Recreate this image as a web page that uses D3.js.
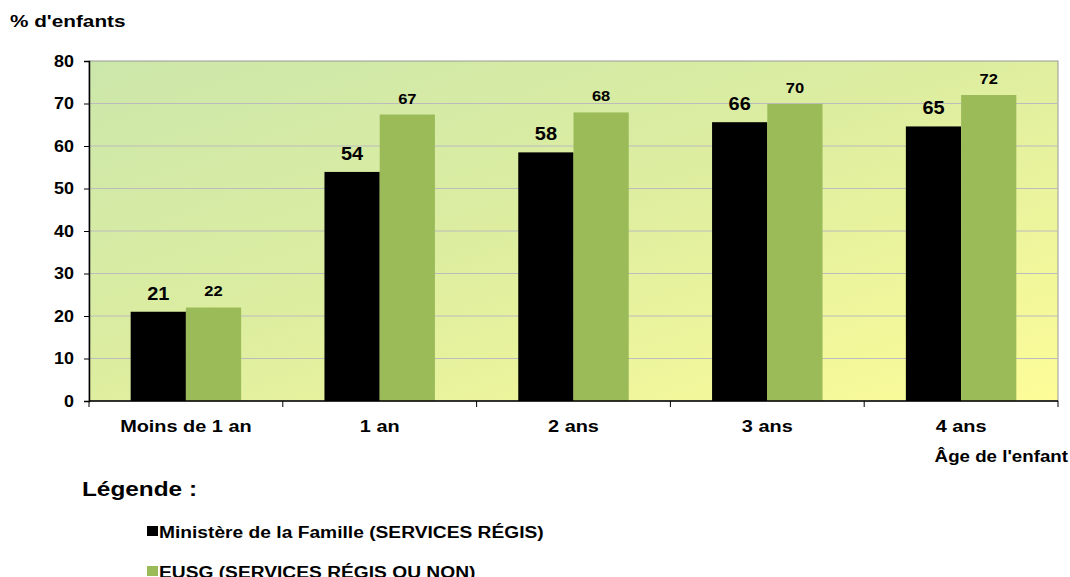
<!DOCTYPE html>
<html>
<head>
<meta charset="utf-8">
<script src="https://cdn.jsdelivr.net/npm/d3@7"></script>
<style>
  body { margin: 0; background: #fff; }
  svg { display: block; font-family: "Liberation Sans", Arial, sans-serif; }
</style>
</head>
<body>
<svg id="chart" width="1070" height="577"></svg>
<script>
// chart values
const categories = ["Moins de 1 an", "1 an", "2 ans", "3 ans", "4 ans"];
const ministere = [21, 53.9, 58.5, 65.6, 64.6];
const eusg = [22, 67.4, 67.9, 69.9, 72.0];
const ministereLabels = ["21", "54", "58", "66", "65"];
const eusgLabels = ["22", "67", "68", "70", "72"];
const yTicks = [0, 10, 20, 30, 40, 50, 60, 70, 80];
const seriesNames = ["Ministère de la Famille (SERVICES RÉGIS)", "EUSG (SERVICES RÉGIS OU NON)"];

const svg = d3.select("#chart");
const margin = { top: 61, left: 89, right: 12, bottom: 176 };
const width = 1070, height = 577;
const innerWidth = width - margin.left - margin.right;
const innerHeight = height - margin.top - margin.bottom;

// text helper: the original font is a little wider than Liberation Sans
function addText(parent, x, y, str, size, sx, anchor) {
  return parent.append("text")
    .attr("x", x).attr("y", y)
    .attr("transform", `translate(${x},${y}) scale(${sx},1) translate(${-x},${-y})`)
    .attr("text-anchor", anchor || "start")
    .style("font-size", size + "px")
    .style("font-weight", "bold")
    .style("fill", "#000")
    .text(str);
}

const g = svg.append("g").attr("transform", `translate(${margin.left},${margin.top})`);

// background gradient of plot area
const defs = svg.append("defs");
const grad = defs.append("linearGradient")
  .attr("id", "bg")
  .attr("x1", "0").attr("y1", "0").attr("x2", "1").attr("y2", "1");
grad.append("stop").attr("offset", "0%").attr("stop-color", "#cce7ab");
grad.append("stop").attr("offset", "45%").attr("stop-color", "#dcedA0");
grad.append("stop").attr("offset", "100%").attr("stop-color", "#fdfc98");

g.append("rect")
  .attr("width", innerWidth)
  .attr("height", innerHeight)
  .attr("fill", "url(#bg)")
  .attr("stroke", "#9a9a9a")
  .attr("stroke-width", 1);

const x = d3.scaleBand()
  .domain(categories)
  .range([0, innerWidth])
  .paddingInner(0.43)
  .paddingOuter(0.215);

const x1 = d3.scaleBand()
  .domain([0, 1])
  .range([0, x.bandwidth()]);

const y = d3.scaleLinear()
  .domain([0, 80])
  .range([innerHeight, 0]);

// gridlines
g.selectAll(".grid")
  .data(yTicks.filter(d => d > 0 && d < 80))
  .enter().append("line")
  .attr("class", "grid")
  .attr("x1", 0).attr("x2", innerWidth)
  .attr("y1", d => y(d)).attr("y2", d => y(d))
  .attr("stroke", "#bcbcbc")
  .attr("stroke-width", 1.2);

const colors = ["#000000", "#9bbb59"];
const series = [ministere, eusg];
const labels = [ministereLabels, eusgLabels];

series.forEach((vals, s) => {
  g.selectAll(".bar" + s)
    .data(vals)
    .enter().append("rect")
    .attr("x", (d, i) => x(categories[i]) + x1(s))
    .attr("y", d => y(d))
    .attr("width", x1.bandwidth())
    .attr("height", d => innerHeight - y(d))
    .attr("fill", colors[s]);

  vals.forEach((d, i) => {
    const cx = x(categories[i]) + x1(s) + x1.bandwidth() / 2;
    if (s === 0) addText(g, cx, y(d) - 12, labels[s][i], 19, 1.05, "middle");
    else addText(g, cx, y(d) - 11, labels[s][i], 15, 1.1, "middle");
  });
});

// y axis
const yAxis = g.append("g")
  .call(d3.axisLeft(y).tickValues(yTicks).tickSize(5).tickFormat(""));
yAxis.select(".domain").attr("stroke", "#000").attr("stroke-width", 1.5);
yTicks.forEach(t => addText(g, -15, y(t) + 6, String(t), 16, 1.12, "end"));

// x axis with ticks at band boundaries
const xAxis = g.append("g").attr("transform", `translate(0,${innerHeight})`);
xAxis.append("line")
  .attr("x1", 0).attr("x2", innerWidth)
  .attr("stroke", "#000").attr("stroke-width", 1.5);
const step = innerWidth / categories.length;
xAxis.selectAll(".xt")
  .data(d3.range(categories.length + 1))
  .enter().append("line")
  .attr("x1", d => d * step).attr("x2", d => d * step)
  .attr("y1", 0).attr("y2", 6)
  .attr("stroke", "#000").attr("stroke-width", 1);
categories.forEach(c => addText(xAxis, x(c) + x.bandwidth() / 2, 31, c, 17, 1.17, "middle"));

// axis titles
addText(svg, 10, 27, "% d'enfants", 17, 1.22);
addText(svg, 1068, 462, "Âge de l'enfant", 16, 1.17, "end");

// legend
addText(svg, 82, 496, "Légende :", 21, 1.16);

seriesNames.forEach((name, i) => {
  const ly = 526 + i * 40;
  svg.append("rect")
    .attr("x", 147).attr("y", ly)
    .attr("width", 11).attr("height", 10)
    .attr("fill", colors[i]);
  addText(svg, 159, ly + 12, name, 17, 1.13);
});
</script>
</body>
</html>
